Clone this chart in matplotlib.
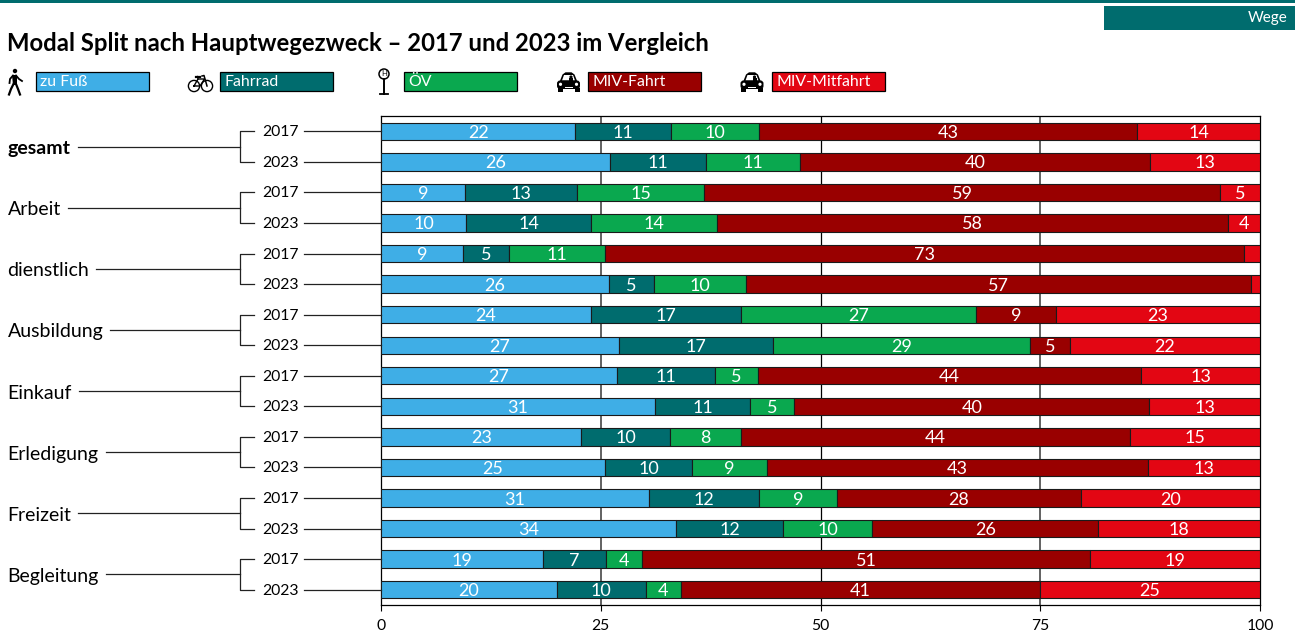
import matplotlib
matplotlib.use("Agg")
import numpy as np
import matplotlib.pyplot as plt
from matplotlib.patches import Rectangle, Circle, Polygon, FancyBboxPatch

plt.rcParams['font.family'] = ['Lato', 'DejaVu Sans']

# Daten: Anteile in Prozent
categories = ["gesamt", "Arbeit", "dienstlich", "Ausbildung", "Einkauf", "Erledigung", "Freizeit", "Begleitung"]
years = ["2017", "2023"]
modes = ["zu Fuß", "Fahrrad", "ÖV", "MIV-Fahrt", "MIV-Mitfahrt"]
colors = ["#3FAEE6", "#006C6E", "#0AA84F", "#990000", "#E30613"]
x_ticks = [0, 25, 50, 75, 100]

zu_fuss = [22.1, 26.0, 9.5, 9.7, 9.3, 25.9, 23.9, 27.1, 26.8, 31.2, 22.8, 25.5, 30.5, 33.6, 18.4, 20.0]
fahrrad = [10.9, 11.0, 12.8, 14.2, 5.3, 5.2, 17.1, 17.5, 11.2, 10.8, 10.1, 9.9, 12.5, 12.1, 7.2, 10.1]
oev = [10.0, 10.7, 14.5, 14.3, 10.9, 10.4, 26.7, 29.2, 4.9, 5.0, 8.1, 8.5, 8.9, 10.2, 4.1, 4.0]
miv_fahrt = [43.0, 39.8, 58.6, 58.2, 72.7, 57.5, 9.1, 4.6, 43.6, 40.4, 44.2, 43.4, 27.7, 25.7, 51.0, 40.9]
miv_mitfahrt = [14.0, 12.5, 4.6, 3.6, 1.8, 1.0, 23.2, 21.6, 13.5, 12.6, 14.8, 12.7, 20.4, 18.4, 19.3, 25.0]

# Beschriftungen wie in der Vorlage (leer = Segment zu schmal)
labels_fuss = [22, 26, 9, 10, 9, 26, 24, 27, 27, 31, 23, 25, 31, 34, 19, 20]
labels_rad = [11, 11, 13, 14, 5, 5, 17, 17, 11, 11, 10, 10, 12, 12, 7, 10]
labels_oev = [10, 11, 15, 14, 11, 10, 27, 29, 5, 5, 8, 9, 9, 10, 4, 4]
labels_fahrt = [43, 40, 59, 58, 73, 57, 9, 5, 44, 40, 44, 43, 28, 26, 51, 41]
labels_mit = [14, 13, 5, 4, "", "", 23, 22, 13, 13, 15, 13, 20, 18, 19, 25]

series = [zu_fuss, fahrrad, oev, miv_fahrt, miv_mitfahrt]
series_labels = [labels_fuss, labels_rad, labels_oev, labels_fahrt, labels_mit]

W, H = 1295, 634
fig = plt.figure(figsize=(W / 100, H / 100), dpi=100)

# Diagramm
ax = fig.add_axes([381 / W, 1 - 605 / H, 879 / W, 489 / H])
y = np.arange(len(zu_fuss))
left = np.zeros(len(y))
for vals, labs, col in zip(series, series_labels, colors):
    vals = np.array(vals)
    ax.barh(y, vals, left=left, height=0.57, color=col, edgecolor="#1a1a1a", linewidth=0.8, zorder=3)
    for i in y:
        ax.text(left[i] + vals[i] / 2, i + 0.05, str(labs[i]), color="white", fontsize=13,
                ha="center", va="center", zorder=4)
    left += vals

ax.set_xlim(0, 100)
ax.set_ylim(15.5, -0.5)
ax.set_yticks([])
ax.set_xticks(x_ticks)
ax.tick_params(axis="x", length=4, width=0.8, labelsize=11.3, pad=6)
for t in x_ticks[1:-1]:
    if t == 50:
        ax.axvline(t, color="black", lw=0.9, zorder=1)
    else:
        ax.axvline(t, color="#555555", lw=1.3, zorder=1)
for s in ax.spines.values():
    s.set_linewidth(0.9)

# Overlay in Pixelkoordinaten fuer Titel, Legende und Klammern
ov = fig.add_axes([0, 0, 1, 1], zorder=5)
ov.set_xlim(0, W)
ov.set_ylim(H, 0)
ov.axis("off")

ov.add_patch(Rectangle((0, 0), W, 2.5, color="#006C6E", lw=0))
ov.add_patch(Rectangle((1104, 6), 191, 24, color="#006C6E", lw=0))
ov.text(1288, 18, "Wege", color="white", fontsize=11, ha="right", va="center")
ov.text(7, 43.5, "Modal Split nach Hauptwegezweck – 2017 und 2023 im Vergleich", fontsize=17.2,
        fontweight="bold", ha="left", va="center")

# Legende
box_x = [36, 220, 404, 588, 772]
for bx, name, col in zip(box_x, modes, colors):
    ov.add_patch(Rectangle((bx, 72), 113, 19, facecolor=col, edgecolor="black", lw=0.9))
    ov.text(bx + 4, 81.5, name, color="white", fontsize=11.4, ha="left", va="center")


def walker(cx):
    ov.add_patch(Circle((cx + 1, 71), 2.2, color="black", lw=0))
    ov.add_patch(Polygon([(cx - 2, 75), (cx + 3, 75), (cx + 3, 85), (cx - 1.5, 85)], color="black", lw=0))
    ov.plot([cx - 0.5, cx - 3, cx - 5], [84, 89, 94.5], color="black", lw=1.6)
    ov.plot([cx + 2, cx + 4, cx + 6], [84, 89, 94.5], color="black", lw=1.6)
    ov.plot([cx - 1, cx - 4, cx - 4.5], [75.5, 79, 83], color="black", lw=1.3)
    ov.plot([cx + 2, cx + 5, cx + 8], [75.5, 79, 81], color="black", lw=1.3)


def bike(cx):
    for dx in (-6.5, 6.5):
        ov.add_patch(Circle((cx + dx, 86), 5.6, fill=False, ec="black", lw=1.0))
    ov.plot([cx - 6.5, cx - 2.5, cx + 4, cx - 0.5, cx - 6.5], [86, 79, 79, 86, 86], color="black", lw=1.0)
    ov.plot([cx + 6.5, cx + 3.5, cx + 1.5], [86, 75.5, 76], color="black", lw=1.1)
    ov.plot([cx - 5, cx - 1], [76.5, 76.5], color="black", lw=1.6)
    ov.plot([cx - 3, cx - 2.5], [76.5, 79], color="black", lw=1.0)


def stop(cx):
    ov.add_patch(Circle((cx, 74), 5, fill=False, ec="black", lw=1.1))
    ov.text(cx, 74, "H", fontsize=5.5, ha="center", va="center")
    ov.plot([cx, cx], [79, 94], color="black", lw=1.4)
    ov.plot([cx - 4, cx + 4], [94.3, 94.3], color="black", lw=1.3)


def car(cx):
    # Kabine mit Scheibe und Kopf, Karosserie, Raeder, Scheinwerfer
    ov.add_patch(Polygon([(cx - 9, 82), (cx - 6, 74.5), (cx - 3, 72.3), (cx + 3, 72.3), (cx + 6, 74.5), (cx + 9, 82)],
                         color="black", lw=0))
    ov.add_patch(Polygon([(cx - 6.5, 80.5), (cx - 4.5, 75), (cx + 4.5, 75), (cx + 6.5, 80.5)], color="white", lw=0))
    ov.add_patch(Circle((cx + 2.5, 77), 1.6, color="black", lw=0))
    ov.add_patch(Rectangle((cx + 0.5, 78), 4, 2.5, color="black", lw=0))
    ov.add_patch(FancyBboxPatch((cx - 11.5, 80.5), 23, 8.5, boxstyle="round,pad=0,rounding_size=3", color="black", lw=0))
    ov.add_patch(Rectangle((cx - 11, 88), 5, 4, color="black", lw=0))
    ov.add_patch(Rectangle((cx + 6, 88), 5, 4, color="black", lw=0))
    ov.add_patch(Circle((cx - 8, 84.3), 1.6, color="white", lw=0))
    ov.add_patch(Circle((cx + 8, 84.3), 1.6, color="white", lw=0))
    ov.add_patch(Rectangle((cx - 4, 87), 8, 1.2, color="white", lw=0))


walker(14)
bike(200.5)
stop(384)
car(568.5)
car(752)

# Kategorien mit Klammern links vom Diagramm
row_h = 489 / 16
fig.canvas.draw()
rend = fig.canvas.get_renderer()
for k, cat in enumerate(categories):
    y1 = 116 + row_h * (2 * k + 0.5)
    y2 = y1 + row_h
    mid = (y1 + y2) / 2
    weight = "bold" if k == 0 else "normal"
    txt = ov.text(7.5, mid + 2, cat, fontsize=14, fontweight=weight, ha="left", va="center")
    end = txt.get_window_extent(rend).x1 * W / fig.bbox.width
    ov.plot([end + 7, 240], [mid, mid], color="#222222", lw=0.9)
    ov.plot([254, 240, 240, 254], [y1, y1, y2, y2], color="#222222", lw=0.9)
    for yy, year in zip((y1, y2), years):
        ov.text(280, yy + 1, year, fontsize=11.3, ha="center", va="center")
        ov.plot([304, 381], [yy, yy], color="#222222", lw=0.9)

fig.savefig("out.png", dpi=100)
